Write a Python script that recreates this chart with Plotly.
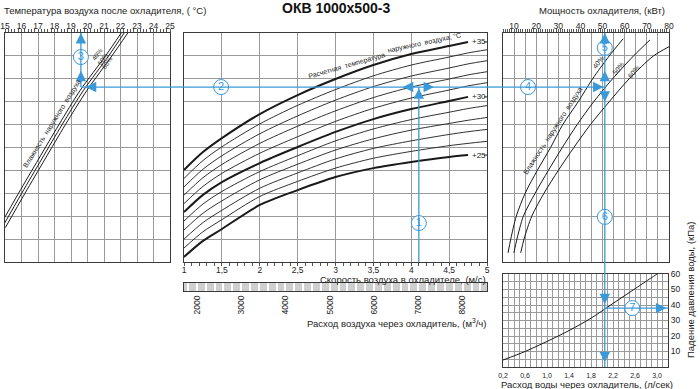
import plotly.graph_objects as go

W, H = 700, 389
def PX(x): return x / W
def PY(y): return 1 - y / H

FONT = "Liberation Sans"
BLUE = "#3a9ad9"
GRID = "#9a9a9a"
FRAME = "#3a3a3a"
INK = "#1a1a1a"

# ---------------- data ----------------
temp_ticks = [15, 16, 17, 18, 19, 20, 21, 22, 23, 24, 25]
vel_ticks = [1, 1.5, 2, 2.5, 3, 3.5, 4, 4.5, 5]
vel_ticktext = ["1", "1,5", "2", "2,5", "3", "3,5", "4", "4,5", "5"]
flow_ticks = [2000, 3000, 4000, 5000, 6000, 7000, 8000]
power_ticks = [10, 20, 30, 40, 50, 60, 70, 80]
water_ticks = [0.2, 0.6, 1.0, 1.4, 1.8, 2.2, 2.6, 3.0]
water_ticktext = ["0,2", "0,6", "1,0", "1,4", "1,8", "2,2", "2,6", "3,0"]
dp_ticks = [10, 20, 30, 40, 50, 60]
A_EFF = 0.475  # effective face area, m2 (velocity -> m3/h)

# middle panel: outdoor design temperature curves (y in grid units 0..10)
velocity = [1.0, 1.25, 1.5, 2.0, 2.5, 3.0, 3.5, 4.0, 4.5, 4.75, 5.0]
t35 = [4.02, 4.80, 5.41, 6.46, 7.29, 7.99, 8.60, 9.08, 9.43, 9.61]
t34 = [3.65, 4.43, 5.03, 6.03, 6.84, 7.53, 8.13, 8.60, 8.95, 9.13, 9.27]
t33 = [3.28, 4.05, 4.64, 5.60, 6.38, 7.07, 7.66, 8.12, 8.47, 8.65, 8.79]
t32 = [2.92, 3.68, 4.26, 5.18, 5.93, 6.60, 7.18, 7.64, 7.99, 8.17, 8.31]
t31 = [2.55, 3.30, 3.87, 4.75, 5.47, 6.14, 6.71, 7.16, 7.51, 7.69, 7.83]
t30 = [2.18, 2.93, 3.49, 4.32, 5.02, 5.68, 6.24, 6.68, 7.03, 7.21]
t29 = [1.79, 2.53, 3.08, 3.95, 4.64, 5.29, 5.81, 6.22, 6.54, 6.70, 6.83]
t28 = [1.40, 2.13, 2.67, 3.59, 4.27, 4.89, 5.38, 5.76, 6.05, 6.19, 6.31]
t27 = [1.00, 1.72, 2.26, 3.22, 3.89, 4.50, 4.96, 5.29, 5.57, 5.69, 5.79]
t26 = [0.61, 1.32, 1.85, 2.86, 3.52, 4.10, 4.53, 4.83, 5.08, 5.18, 5.27]
t25 = [0.22, 0.92, 1.44, 2.49, 3.14, 3.71, 4.10, 4.37, 4.59, 4.67]

# left panel: air temperature after cooler for outdoor humidity
hum_y = [1.5, 3.0, 4.5, 6.0, 7.5, 9.0, 10.0]
hum40_t = [14.63, 15.82, 17.04, 18.27, 19.56, 21.09, 22.04]
hum50_t = [14.82, 16.01, 17.23, 18.46, 19.76, 21.28, 22.22]
hum60_t = [15.02, 16.21, 17.43, 18.66, 19.97, 21.48, 22.44]

# right panel: cooler capacity for outdoor humidity
pw_y = [0.4, 1.0, 2.0, 3.0, 4.0, 5.0, 6.0, 7.0, 8.0, 9.0, 9.75]
pw40 = [7.3, 8.5, 11.0, 15.0, 20.5, 26.5, 32.0, 39.0, 45.5, 53.0, 59.3]
pw50_y = [0.4, 1.0, 2.0, 3.0, 4.0, 5.0, 6.0, 7.0, 8.0, 9.0, 9.7]
pw50 = [9.9, 11.3, 14.2, 19.5, 25.5, 31.8, 38.5, 46.0, 54.5, 64.0, 71.4]
pw60_y = [0.4, 1.0, 2.0, 3.0, 4.0, 5.0, 6.0, 7.0, 8.0, 9.0, 9.4]
pw60 = [13.0, 14.5, 18.0, 23.5, 30.0, 37.0, 44.5, 53.0, 62.0, 73.0, 80.0]

# bottom right: water pressure drop
water = [0.2, 0.6, 1.0, 1.4, 1.8, 2.2, 2.6, 3.0, 3.02]
dp = [4.5, 10.0, 16.5, 23.5, 31.5, 41.0, 50.5, 60.0, 60.5]

# worked example
v_sel = 4.1
y_sel = 7.64
t_sel = 19.6
p_sel = 51.0
gw_sel = 2.05
dp_sel = 38.0

# ---------------- layout geometry ----------------
LEFT_X = [PX(5), PX(170)]
MID_X = [PX(184), PX(487)]
RIGHT_X = [PX(503), PX(669)]
TOP_Y = [PY(262), PY(33)]
STRIP_Y = [PY(291), PY(283)]
PRESS_X = [PX(503), PX(668)]
PRESS_Y = [PY(367), PY(274)]

fig = go.Figure()

def line(x, y, xa, ya, w=0.9, color=INK):
    fig.add_trace(go.Scatter(x=x, y=y, xaxis=xa, yaxis=ya, mode="lines",
                             line=dict(color=color, width=w, shape="spline", smoothing=0.8),
                             hoverinfo="skip", showlegend=False))

# middle curves
for vals, thick in [(t35, True), (t34, False), (t33, False), (t32, False), (t31, False),
                    (t30, True), (t29, False), (t28, False), (t27, False), (t26, False), (t25, True)]:
    line(velocity[:len(vals)], vals, "x2", "y2", 2.0 if thick else 0.9)

# left humidity lines
for tv in (hum40_t, hum50_t, hum60_t):
    line(tv, hum_y, "x", "y", 1.0)

# right humidity curves
line(pw40, pw_y, "x3", "y3", 1.0)
line(pw50, pw50_y, "x3", "y3", 1.0)
line(pw60, pw60_y, "x3", "y3", 1.0)

# pressure drop
line(water, dp, "x5", "y5", 1.0)

# strip placeholder trace
fig.add_trace(go.Scatter(x=[None], y=[None], xaxis="x4", yaxis="y4", showlegend=False))

# ---------------- blue guide lines ----------------
def seg(x0, y0, x1, y1, xref, yref):
    fig.add_shape(type="line", x0=x0, y0=y0, x1=x1, y1=y1, xref=xref, yref=yref,
                  line=dict(color=BLUE, width=1.3), layer="above")

seg(v_sel, 0, v_sel, y_sel, "x2", "y2")
seg(t_sel, y_sel, 25, y_sel, "x", "y")
seg(LEFT_X[1], y_sel, MID_X[0], y_sel, "paper", "y")
seg(1, y_sel, 5, y_sel, "x2", "y2")
seg(MID_X[1], y_sel, RIGHT_X[0], y_sel, "paper", "y")
seg(5, y_sel, p_sel, y_sel, "x3", "y3")
seg(t_sel, y_sel, t_sel, 10, "x", "y")
seg(p_sel, 0, p_sel, 10, "x3", "y3")
seg(p_sel, PRESS_Y[1], p_sel, TOP_Y[0], "x3", "paper")
seg(gw_sel, 0, gw_sel, 60, "x5", "y5")
seg(gw_sel, dp_sel, 3.2, dp_sel, "x5", "y5")

def arrow(x, y, xref, yref, ax, ay):
    fig.add_annotation(x=x, y=y, xref=xref, yref=yref, ax=ax, ay=ay, text="",
                       showarrow=True, arrowhead=2, arrowsize=1.6, arrowwidth=1.3,
                       arrowcolor=BLUE, standoff=0)

arrow(v_sel, y_sel - 0.06, "x2", "y2", 0, 11)
arrow(3.89, y_sel, "x2", "y2", 11, 0)
arrow(4.30, y_sel, "x2", "y2", -11, 0)
arrow(19.9, y_sel, "x", "y", 11, 0)
arrow(t_sel, 10, "x", "y", 0, 11)
arrow(t_sel, 8.35, "x", "y", 0, 11)
arrow(50.4, y_sel, "x3", "y3", -11, 0)
arrow(p_sel, 10, "x3", "y3", 0, 11)
arrow(p_sel, 8.35, "x3", "y3", 0, 11)
arrow(p_sel, 7.0, "x3", "y3", 0, -11)
arrow(gw_sel, 40.5, "x5", "y5", 0, -11)
arrow(gw_sel, 3.0, "x5", "y5", 0, -11)
arrow(3.17, dp_sel, "x5", "y5", -11, 0)

# numbered circles
def circles(xs, ys, labels, xa, ya):
    fig.add_trace(go.Scatter(x=xs, y=ys, xaxis=xa, yaxis=ya, mode="markers+text",
                             text=labels, textposition="middle center",
                             textfont=dict(family=FONT, size=11, color=BLUE),
                             marker=dict(size=15, color="white", line=dict(color=BLUE, width=1)),
                             cliponaxis=False, hoverinfo="skip", showlegend=False))

circles([v_sel, 1.49], [1.70, y_sel], ["1", "2"], "x2", "y2")
circles([t_sel], [8.95], ["3"], "x", "y")
circles([16.3, p_sel, p_sel], [y_sel, 9.35, 1.97], ["4", "5", "6"], "x3", "y3")
circles([2.55], [dp_sel], ["7"], "x5", "y5")

# ---------------- texts ----------------
def txt(text, x, y, xref="paper", yref="paper", size=9.5, angle=0, xanchor="center",
        yanchor="middle", color="#222", bold=False):
    if bold:
        text = "<b>" + text + "</b>"
    fig.add_annotation(text=text, x=x, y=y, xref=xref, yref=yref, showarrow=False,
                       textangle=angle, xanchor=xanchor, yanchor=yanchor,
                       font=dict(family=FONT, size=size, color=color))

txt("ОКВ 1000x500-3", PX(336), PY(8), size=14, bold=True, color="#111")
txt("Температура воздуха после охладителя, ( °C)", PX(2), PY(10), xanchor="left")
txt("Мощность охладителя, (кВт)", PX(602), PY(10))
txt("Скорость воздуха в охладителе, (м/с)", PX(488), PY(279), xanchor="right")
txt("Расход воздуха через охладитель, (м<sup>3</sup>/ч)", PX(488), PY(323), xanchor="right")
txt("Расход воды через охладитель, (л/сек)", PX(587), PY(384))
txt("Падение давления воды, (кПа)", PX(690), PY(290), angle=-90)

txt("Расчетная  температура", 3.14, 8.58, "x2", "y2", size=7, angle=-16)
txt("наружного  воздуха, °C", 4.17, 9.55, "x2", "y2", size=7, angle=-12)
for lab, val in (("+35", t35[-1]), ("+30", t30[-1]), ("+25", t25[-1])):
    txt(lab, 4.77, val, "x2", "y2", size=8, xanchor="left")
    fig.add_shape(type="line", x0=4.96, x1=5.0, y0=val, y1=val, xref="x2", yref="y2",
                  line=dict(color=INK, width=1))

txt("Влажность  наружного  воздуха", 17.85, 6.03, "x", "y", size=7, angle=-58)
txt("40%", 20.58, 9.04, "x", "y", size=6.5, angle=-55)
txt("50%", 20.88, 8.86, "x", "y", size=6.5, angle=-55)
txt("60%", 21.18, 8.73, "x", "y", size=6.5, angle=-55)

txt("Влажность  наружного  воздуха", 27.6, 5.72, "x3", "y3", size=7, angle=-57)
txt("40%", 47.9, 8.73, "x3", "y3", size=7, angle=-52)
txt("50%", 57.0, 8.47, "x3", "y3", size=7, angle=-52)
txt("60%", 64.2, 8.30, "x3", "y3", size=7, angle=-52)

# strip background
fig.add_shape(type="rect", xref="x4 domain", yref="y4 domain", x0=0, x1=1, y0=0, y1=1,
              fillcolor="#cfcfcf", line=dict(width=0), layer="below")

# ---------------- axes ----------------
tickfont = dict(family=FONT, size=8.5, color="#222")
frame = dict(showline=True, mirror=True, linecolor=FRAME, linewidth=1.2, zeroline=False,
             gridcolor=GRID, gridwidth=0.7, automargin=False)

power_grid = [5 + 5 * i for i in range(16)]
power_text = [str(v) if v in power_ticks else "" for v in power_grid]

fig.update_layout(
    width=W, height=H, margin=dict(l=0, r=0, t=0, b=0, autoexpand=False),
    paper_bgcolor="white", plot_bgcolor="white", showlegend=False,
    separators=", ",
    xaxis=dict(domain=LEFT_X, anchor="y", range=[15, 25], side="top", tickvals=temp_ticks,
               showgrid=True, tickfont=tickfont, ticks="",
               minor=dict(ticks="outside", ticklen=3, tickcolor="#555", dtick=0.2, tick0=15, showgrid=False),
               **frame),
    yaxis=dict(domain=TOP_Y, anchor="x", range=[0, 10], dtick=1, showgrid=True,
               showticklabels=False, ticks="", **frame),
    xaxis2=dict(domain=MID_X, anchor="y2", range=[1, 5], tickvals=vel_ticks, ticktext=vel_ticktext,
                showgrid=True, tickfont=tickfont, ticks="",
                minor=dict(ticks="outside", ticklen=3, tickcolor="#555", dtick=0.1, tick0=1, showgrid=False),
                **frame),
    yaxis2=dict(domain=TOP_Y, anchor="x2", range=[0, 10], dtick=1, showgrid=True,
                showticklabels=False, ticks="", **frame),
    xaxis3=dict(domain=RIGHT_X, anchor="y3", range=[5, 80], side="top", tickvals=power_grid,
                ticktext=power_text, showgrid=True, tickfont=tickfont, ticks="",
                minor=dict(ticks="outside", ticklen=3, tickcolor="#555", dtick=1, tick0=5, showgrid=False),
                **frame),
    yaxis3=dict(domain=TOP_Y, anchor="x3", range=[0, 10], dtick=1, showgrid=True,
                showticklabels=False, ticks="", **frame),
    xaxis4=dict(domain=MID_X, anchor="y4", range=[1 * 3600 * A_EFF, 5 * 3600 * A_EFF],
                tickvals=flow_ticks, tickformat="d", tickangle=-90, tickfont=tickfont, ticks="",
                showgrid=False, automargin=False,
                minor=dict(dtick=200, tick0=2000, showgrid=True, gridcolor="white", gridwidth=1.5, ticks=""),
                showline=True, mirror=True, linecolor=FRAME, linewidth=1.2, zeroline=False),
    yaxis4=dict(domain=STRIP_Y, anchor="x4", range=[0, 1], showticklabels=False, showgrid=False,
                ticks="", showline=True, mirror=True, linecolor=FRAME, linewidth=1.2, zeroline=False,
                automargin=False),
    xaxis5=dict(domain=PRESS_X, anchor="y5", range=[0.2, 3.2], tickvals=water_ticks,
                ticktext=water_ticktext, showgrid=True, tickfont=dict(family=FONT, size=7, color="#222"),
                ticks="", ticklabelstandoff=1,
                minor=dict(dtick=0.1, tick0=0.2, showgrid=True, gridcolor=GRID, gridwidth=0.6),
                **frame),
    yaxis5=dict(domain=PRESS_Y, anchor="x5", side="right", range=[0, 60], tickvals=dp_ticks,
                showgrid=True, tickfont=tickfont, ticks="",
                minor=dict(dtick=5, tick0=0, showgrid=True, gridcolor=GRID, gridwidth=0.6),
                **frame),
)

fig.write_html("out.html", config={"displayModeBar": False},
               post_script="document.body.style.margin='0';document.body.style.padding='0';")
